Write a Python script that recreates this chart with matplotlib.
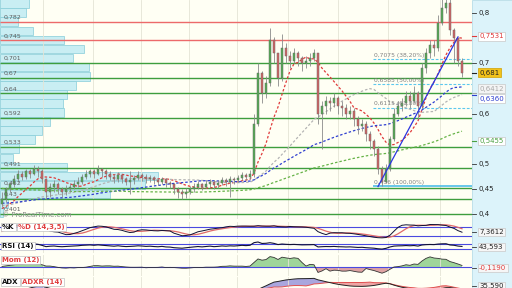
import numpy as np
import pandas as pd
import matplotlib
matplotlib.use('Agg')
import matplotlib.pyplot as plt
from matplotlib.patches import Rectangle

# ---------------- data ----------------
pre_close = [0.53, 0.52, 0.525, 0.51, 0.515, 0.50, 0.505, 0.51, 0.50, 0.495,
             0.50, 0.49, 0.495, 0.485, 0.49, 0.48, 0.485, 0.49, 0.48, 0.475,
             0.48, 0.47, 0.475, 0.48, 0.47, 0.465, 0.47, 0.46, 0.465, 0.47,
             0.49, 0.50, 0.495, 0.49, 0.485, 0.48, 0.49, 0.485, 0.475, 0.47,
             0.48, 0.47, 0.465, 0.46, 0.455, 0.46, 0.45, 0.445, 0.45, 0.44,
             0.44, 0.435, 0.43, 0.44, 0.435, 0.43, 0.425, 0.43, 0.44, 0.435,
             0.43, 0.425, 0.42, 0.425, 0.43, 0.435, 0.43, 0.425, 0.42, 0.415,
             0.42, 0.425, 0.43, 0.425, 0.42, 0.415, 0.42, 0.425, 0.43, 0.42,
             0.425, 0.42, 0.415, 0.42, 0.425, 0.42, 0.415, 0.41, 0.415, 0.42,
             0.415, 0.41, 0.405, 0.41, 0.40, 0.405, 0.41, 0.415, 0.41, 0.42]

first_open = 0.42
close = [0.43, 0.45, 0.46, 0.47, 0.48, 0.475, 0.485, 0.48, 0.49, 0.485,
         0.47, 0.445, 0.455, 0.46, 0.45, 0.445, 0.45, 0.455, 0.46, 0.465,
         0.475, 0.48, 0.485, 0.48, 0.49, 0.485, 0.48, 0.475, 0.47, 0.478,
         0.47, 0.465, 0.468, 0.472, 0.478, 0.475, 0.47, 0.473, 0.468, 0.465,
         0.47, 0.462, 0.46, 0.45, 0.445, 0.44, 0.445, 0.45, 0.455, 0.46,
         0.455, 0.46, 0.465, 0.458, 0.462, 0.468, 0.465, 0.47, 0.468, 0.472,
         0.478, 0.475, 0.48, 0.58, 0.68, 0.64, 0.66, 0.745, 0.72, 0.67,
         0.73, 0.715, 0.705, 0.72, 0.71, 0.70, 0.705, 0.71, 0.72, 0.60,
         0.615, 0.625, 0.62, 0.63, 0.615, 0.61, 0.60, 0.605, 0.59, 0.575,
         0.58, 0.56, 0.545, 0.53, 0.49, 0.465, 0.49, 0.55, 0.60, 0.615,
         0.62, 0.635, 0.625, 0.64, 0.615, 0.69, 0.72, 0.735, 0.73, 0.78,
         0.81, 0.82, 0.765, 0.75, 0.705, 0.681]
high = [0.445, 0.455, 0.465, 0.478, 0.488, 0.485, 0.49, 0.49, 0.497, 0.495,
        0.49, 0.472, 0.462, 0.468, 0.465, 0.455, 0.458, 0.462, 0.468, 0.475,
        0.48, 0.488, 0.49, 0.49, 0.497, 0.492, 0.49, 0.485, 0.48, 0.483,
        0.48, 0.475, 0.485, 0.478, 0.485, 0.482, 0.48, 0.478, 0.476, 0.472,
        0.475, 0.472, 0.466, 0.462, 0.455, 0.45, 0.452, 0.456, 0.462, 0.466,
        0.463, 0.468, 0.47, 0.468, 0.468, 0.474, 0.472, 0.476, 0.474, 0.478,
        0.484, 0.482, 0.488, 0.60, 0.70, 0.685, 0.675, 0.77, 0.752, 0.72,
        0.757, 0.74, 0.725, 0.73, 0.725, 0.715, 0.715, 0.72, 0.728, 0.72,
        0.625, 0.635, 0.632, 0.64, 0.635, 0.625, 0.618, 0.615, 0.61, 0.595,
        0.59, 0.585, 0.565, 0.55, 0.535, 0.495, 0.50, 0.555, 0.61, 0.625,
        0.63, 0.645, 0.645, 0.655, 0.645, 0.70, 0.73, 0.745, 0.745, 0.795,
        0.86, 0.85, 0.83, 0.77, 0.735, 0.71]
low = [0.415, 0.425, 0.445, 0.455, 0.465, 0.468, 0.47, 0.472, 0.478, 0.475,
       0.462, 0.43, 0.435, 0.445, 0.44, 0.435, 0.438, 0.445, 0.45, 0.455,
       0.46, 0.47, 0.475, 0.472, 0.478, 0.475, 0.47, 0.468, 0.462, 0.465,
       0.462, 0.458, 0.44, 0.46, 0.468, 0.466, 0.462, 0.464, 0.46, 0.458,
       0.46, 0.455, 0.452, 0.44, 0.432, 0.43, 0.432, 0.44, 0.445, 0.45,
       0.448, 0.452, 0.455, 0.45, 0.452, 0.458, 0.456, 0.435, 0.46, 0.464,
       0.468, 0.468, 0.47, 0.475, 0.575, 0.62, 0.63, 0.655, 0.70, 0.655,
       0.665, 0.70, 0.69, 0.70, 0.695, 0.685, 0.69, 0.695, 0.705, 0.58,
       0.53, 0.60, 0.605, 0.612, 0.60, 0.595, 0.59, 0.59, 0.575, 0.56,
       0.565, 0.545, 0.53, 0.515, 0.48, 0.456, 0.462, 0.485, 0.545, 0.595,
       0.605, 0.615, 0.61, 0.62, 0.59, 0.61, 0.68, 0.71, 0.715, 0.725,
       0.775, 0.80, 0.755, 0.70, 0.695, 0.672]

profile_price = [0.818, 0.800, 0.782, 0.764, 0.746, 0.728, 0.710, 0.692, 0.674, 0.656,
                 0.638, 0.620, 0.602, 0.584, 0.566, 0.548, 0.530, 0.512, 0.494, 0.476,
                 0.458, 0.440, 0.422, 0.404]
profile_volume = [29, 26, 18, 33, 64, 84, 73, 89, 90, 76,
                  67, 63, 64, 50, 42, 35, 19, 13, 67, 158,
                  145, 110, 8, 3]

red_levels = [0.782, 0.745]
green_levels = [0.701, 0.67, 0.64, 0.592, 0.533, 0.491, 0.452, 0.43, 0.401]
level_labels = ['0,782', '0,745', '0,701', '0,67', '0,64', '0,592', '0,533',
                '0,491', '0,452', '0,43', '0,401']

fib_levels = [0.7075, 0.6585, 0.6115, 0.456]
fib_labels = ['0,7075 (38,20%)', '0,6585 (50,00%)', '0,6115 (61,80%)', '0,456 (100,00%)']
fib_start = 93

trend_x = [94, 114]
trend_y = [0.455, 0.752]

ma_periods = [10, 30, 50, 100]
ma_colors = ['#e03a3a', '#b4b4b4', '#2f3fd0', '#66b347']

right_ticks = [0.8, 0.7, 0.6, 0.5, 0.45, 0.4]
right_tick_labels = ['0,8', '0,7', '0,6', '0,5', '0,45', '0,4']

tag_values = [0.7531, 0.681, 0.6412, 0.6360, 0.5455]
tag_texts = ['0,7531', '0,681', '0,6412', '0,6360', '0,5455']

date_ticks = [10.25, 22.75, 34.75, 46.75, 58.75, 71.5, 84, 96.5, 109.5]

ind_values = ['7,3612', '43,593', '-0,1190', '35,590']

# ---------------- derived series ----------------
n = len(close)
npre = len(pre_close)
x = np.arange(n)
opens = [first_open] + close[:-1]
full_c = pd.Series(pre_close + close)
full_h = pd.Series(pre_close + high)
full_l = pd.Series(pre_close + low)

mas = [full_c.rolling(p, min_periods=1).mean().values[npre:] for p in ma_periods]

def wilder(s, k):
    return s.ewm(alpha=1.0 / k, adjust=False).mean()

ll = full_l.rolling(14, min_periods=1).min()
hh = full_h.rolling(14, min_periods=1).max()
raw = 100 * (full_c - ll) / (hh - ll).replace(0, np.nan)
stk = raw.rolling(3, min_periods=1).mean()
std = stk.rolling(5, min_periods=1).mean()

dlt = full_c.diff()
rsi = 100 - 100 / (1 + wilder(dlt.clip(lower=0), 14) / wilder((-dlt).clip(lower=0), 14))

mom = (full_c - full_c.shift(12))

prev_c = full_c.shift(1)
tr = pd.concat([full_h - full_l, (full_h - prev_c).abs(), (full_l - prev_c).abs()], axis=1).max(axis=1)
up = full_h.diff()
dn = -full_l.diff()
pdm = pd.Series(np.where((up > dn) & (up > 0), up, 0.0))
mdm = pd.Series(np.where((dn > up) & (dn > 0), dn, 0.0))
atr = wilder(tr, 14).replace(0, np.nan)
pdi = 100 * wilder(pdm, 14) / atr
mdi = 100 * wilder(mdm, 14) / atr
dx = 100 * (pdi - mdi).abs() / (pdi + mdi).replace(0, np.nan)
adx = wilder(dx.fillna(0), 14)
adxr = (adx + adx.shift(14)) / 2

stk = stk.values[npre:]; std = std.values[npre:]
rsi = rsi.values[npre:]; mom = mom.values[npre:]
adx = adx.values[npre:]; adxr = adxr.values[npre:]

# ---------------- figure ----------------
W, H = 512, 288
BG = '#fffff4'
fig = plt.figure(figsize=(W / 100, H / 100), dpi=100)
fig.patch.set_facecolor(BG)
fig.add_artist(Rectangle((472 / W, 0), 40 / W, 1, transform=fig.transFigure,
                         facecolor='#dcf3fa', edgecolor='#b8dde8', lw=0.6, zorder=0))
renderer = fig.canvas.get_renderer()

def rect(x0, y0, x1, y1):
    return [x0 / W, 1 - y1 / H, (x1 - x0) / W, (y1 - y0) / H]

XL = (-0.5, 117.5)
FS = 5

def style_ax(a):
    a.set_xlim(*XL)
    a.set_facecolor(BG)
    for s in a.spines.values():
        s.set_visible(False)
    a.set_xticks(date_ticks)
    a.tick_params(length=0, labelbottom=False, labelleft=False)
    a.set_yticks([])
    a.grid(axis='x', color='#e4e4d6', lw=0.6)

# main price panel (bottom axis carries the volume profile)
axp = fig.add_axes(rect(0, 0, 472, 219))
style_ax(axp)
axp.set_ylim(0.3907, 0.8252)
axp.set_yticks(right_ticks)
axp.grid(axis='y', color='#ececdf', lw=0.5)

ax = axp.twiny()
ax.set_zorder(axp.get_zorder() + 1)
ax.patch.set_visible(False)
ax.set_xlim(*XL)
ax.set_ylim(0.3907, 0.8252)
for s in ax.spines.values():
    s.set_visible(False)
ax.set_xticks([]); ax.set_yticks([])

vmax = max(profile_volume) * 2.99
axp.set_xlim(0, vmax)
axp.set_xticks([(t + 0.5) * vmax / 118.0 for t in date_ticks])
axp.barh(profile_price, profile_volume, height=0.0172, left=0, color='#c4edf3',
         edgecolor='#8ccfda', lw=0.6, alpha=0.9, zorder=1)

# levels
ax.hlines(red_levels, XL[0], XL[1], colors='#ec6a6a', lw=1.0, zorder=2)
ax.hlines(green_levels, XL[0], XL[1], colors='#3e9e3e', lw=1.0, zorder=2)
ytr = ax.get_yaxis_transform()
for lv, lb in zip(red_levels + green_levels, level_labels):
    ax.text(0.008, lv + 0.004, lb, transform=ytr, fontsize=4.5, color='#5e5e5e',
            va='bottom', ha='left', zorder=6)

# fibonacci
ax.hlines(fib_levels[:3], fib_start - 0.25, XL[1], colors='#5cc8ee', lw=0.8,
          linestyles=(0, (2.5, 1.5)), zorder=3)
ax.hlines(fib_levels[3:], fib_start - 0.25, XL[1], colors='#40b8e8', lw=1.1, zorder=3)
for lv, lb in zip(fib_levels, fib_labels):
    ax.text(fib_start, lv + 0.003, lb, fontsize=4.3, color='#808080', va='bottom',
            ha='left', zorder=6)

# moving averages
for m, c in zip(mas, ma_colors):
    ax.plot(x, m, color=c, lw=0.9, ls=(0, (2, 1.6)), zorder=4)

# candles
o = np.array(opens); c_ = np.array(close); h_ = np.array(high); l_ = np.array(low)
upc = c_ >= o
ax.vlines(x, l_, h_, color='#8a8a8a', lw=0.6, zorder=5)
ax.bar(x, np.maximum(np.abs(c_ - o), 0.002), bottom=np.minimum(o, c_), width=0.62,
       color=np.where(upc, '#52ad52', '#d46464'), edgecolor='#6b6b6b', lw=0.35, zorder=5)

# trend line
ax.plot(trend_x, trend_y, color='#2b35e0', lw=0.9, zorder=6)

ax.text(0.004, 0.3925, '\u00a9 ProRealTime.com', transform=ytr, fontsize=5,
        color='#8c8c8c', va='bottom', zorder=7)

# right axis labels
for t, lb in zip(right_ticks, right_tick_labels):
    ax.plot([1.0, 1.009], [t, t], transform=ytr, color='#333333', lw=0.6, clip_on=False)
    ax.text(1.013, t, lb, transform=ytr, fontsize=FS, va='center', ha='left',
            color='#222222', clip_on=False)

tag_style = [('#e03a3a', 'white', '#c8c8c8', 0),
             ('#222222', '#f2c21a', '#d0a000', 0),
             ('#a8a8a8', '#f4f4f4', '#c8c8c8', 3.0),
             ('#2f3fd0', 'white', '#c8c8c8', -2.4),
             ('#4aa040', 'white', '#c8c8c8', 0)]
for v, tx, (fc, bg, ec, dy) in zip(tag_values, tag_texts, tag_style):
    ax.plot([1.0, 1.009], [v, v], transform=ytr, color=fc, lw=0.8, clip_on=False)
    ax.annotate(tx, (1.015, v), xycoords=ytr, xytext=(0, dy), textcoords='offset points',
                fontsize=FS, va='center', ha='left', color=fc, annotation_clip=False,
                bbox=dict(boxstyle='square,pad=0.18', fc=bg, ec=ec, lw=0.5))

# ---------------- indicator panels ----------------
def panel(y0, y1, ylim):
    a = fig.add_axes(rect(0, y0, 472, y1))
    style_ax(a)
    a.set_ylim(*ylim)
    return a

def tag(a, texts, colors):
    xs = 2.0
    for t, col in zip(texts, colors):
        tt = a.annotate(t, (0, 1), xycoords='axes fraction', xytext=(xs * 0.72, -1.2),
                        textcoords='offset points', fontsize=FS, color=col,
                        va='top', ha='left', fontweight='bold',
                        bbox=dict(boxstyle='square,pad=0.15', fc='white', ec='#c0c0c0', lw=0.5),
                        zorder=8)
        bb = tt.get_window_extent(renderer)
        xs += bb.width + 4

def value_tag(a, yfrac, txt, col):
    a.plot([1.0, 1.009], [yfrac, yfrac], transform=a.transAxes, color='#333333', lw=0.6,
           clip_on=False)
    a.text(1.015, yfrac, txt, transform=a.transAxes, fontsize=FS, va='center', ha='left',
           color=col, clip_on=False,
           bbox=dict(boxstyle='square,pad=0.18', fc='#f6f6f6', ec='#c8c8c8', lw=0.5))

a1 = panel(222, 239, (0, 113))
a1.axhline(80, color='#4a4ae0', lw=0.8)
a1.axhline(20, color='#4a4ae0', lw=0.8)
a1.plot(x, std, color='#e06a6a', lw=0.9)
a1.plot(x, stk, color='#111133', lw=0.7)
tag(a1, ['%K', '%D (14,3,5)'], ['#111111', '#e04040'])
value_tag(a1, 0.4, ind_values[0], '#222222')

a2 = panel(241, 253, (-9, 100))
a2.axhline(70, color='#4a4ae0', lw=0.8)
a2.axhline(30, color='#4a4ae0', lw=0.8)
a2.plot(x, rsi, color='#111133', lw=0.8)
tag(a2, ['RSI (14)'], ['#111111'])
value_tag(a2, 0.5, ind_values[1], '#222222')

a3 = panel(255, 276, (-0.24, 0.32))
a3.fill_between(x, mom, 0, where=mom >= 0, interpolate=True, color='#9fd59a', lw=0)
a3.fill_between(x, mom, 0, where=mom < 0, interpolate=True, color='#dfa3a3', lw=0)
a3.axhline(0, color='#4a4ae0', lw=0.8)
a3.plot(x, mom, color='#333333', lw=0.6)
tag(a3, ['Mom (12)'], ['#e04040'])
value_tag(a3, 0.38, ind_values[2], '#e04040')

a4 = panel(277, 300, (6, 50))
a4.fill_between(x, adx, adxr, where=adx >= adxr, interpolate=True, color='#a9a6de', lw=0)
a4.fill_between(x, adx, adxr, where=adx < adxr, interpolate=True, color='#eea5a5', lw=0)
a4.plot(x, adxr, color='#e05050', lw=0.7)
a4.plot(x, adx, color='#222222', lw=0.7)
tag(a4, ['ADX', 'ADXR (14)'], ['#111111', '#e04040'])
value_tag(a4, 0.6, ind_values[3], '#222222')

fig.savefig('out.png', dpi=100, facecolor=fig.get_facecolor())
